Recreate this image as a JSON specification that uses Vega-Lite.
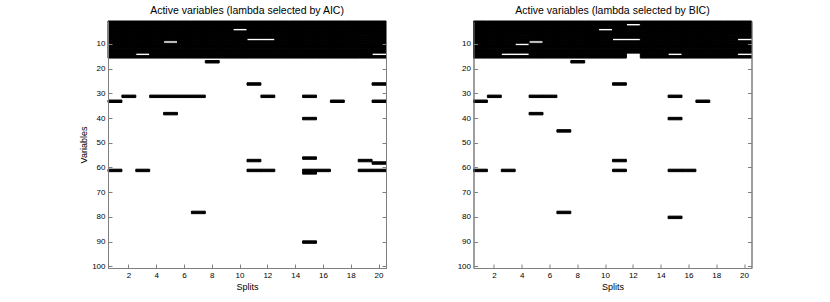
{
"$schema": "https://vega.github.io/schema/vega-lite/v6.json",
"background": "white",
"padding": {"left": 79, "top": 5, "right": 5, "bottom": 2},
"spacing": 69.5,
"datasets": {
"aic": [
{"s":1,"v":1},{"s":1,"v":2},{"s":1,"v":3},{"s":1,"v":4},{"s":1,"v":5},{"s":1,"v":6},{"s":1,"v":7},{"s":1,"v":8},{"s":1,"v":9},{"s":1,"v":10},{"s":1,"v":11},{"s":1,"v":12},{"s":1,"v":13},{"s":1,"v":14},{"s":1,"v":15},{"s":1,"v":33},{"s":1,"v":61},
{"s":2,"v":1},{"s":2,"v":2},{"s":2,"v":3},{"s":2,"v":4},{"s":2,"v":5},{"s":2,"v":6},{"s":2,"v":7},{"s":2,"v":8},{"s":2,"v":9},{"s":2,"v":10},{"s":2,"v":11},{"s":2,"v":12},{"s":2,"v":13},{"s":2,"v":14},{"s":2,"v":15},{"s":2,"v":31},
{"s":3,"v":1},{"s":3,"v":2},{"s":3,"v":3},{"s":3,"v":4},{"s":3,"v":5},{"s":3,"v":6},{"s":3,"v":7},{"s":3,"v":8},{"s":3,"v":9},{"s":3,"v":10},{"s":3,"v":11},{"s":3,"v":12},{"s":3,"v":13},{"s":3,"v":15},{"s":3,"v":61},
{"s":4,"v":1},{"s":4,"v":2},{"s":4,"v":3},{"s":4,"v":4},{"s":4,"v":5},{"s":4,"v":6},{"s":4,"v":7},{"s":4,"v":8},{"s":4,"v":9},{"s":4,"v":10},{"s":4,"v":11},{"s":4,"v":12},{"s":4,"v":13},{"s":4,"v":14},{"s":4,"v":15},{"s":4,"v":31},
{"s":5,"v":1},{"s":5,"v":2},{"s":5,"v":3},{"s":5,"v":4},{"s":5,"v":5},{"s":5,"v":6},{"s":5,"v":7},{"s":5,"v":8},{"s":5,"v":10},{"s":5,"v":11},{"s":5,"v":12},{"s":5,"v":13},{"s":5,"v":14},{"s":5,"v":15},{"s":5,"v":31},{"s":5,"v":38},
{"s":6,"v":1},{"s":6,"v":2},{"s":6,"v":3},{"s":6,"v":4},{"s":6,"v":5},{"s":6,"v":6},{"s":6,"v":7},{"s":6,"v":8},{"s":6,"v":9},{"s":6,"v":10},{"s":6,"v":11},{"s":6,"v":12},{"s":6,"v":13},{"s":6,"v":14},{"s":6,"v":15},{"s":6,"v":31},
{"s":7,"v":1},{"s":7,"v":2},{"s":7,"v":3},{"s":7,"v":4},{"s":7,"v":5},{"s":7,"v":6},{"s":7,"v":7},{"s":7,"v":8},{"s":7,"v":9},{"s":7,"v":10},{"s":7,"v":11},{"s":7,"v":12},{"s":7,"v":13},{"s":7,"v":14},{"s":7,"v":15},{"s":7,"v":31},{"s":7,"v":78},
{"s":8,"v":1},{"s":8,"v":2},{"s":8,"v":3},{"s":8,"v":4},{"s":8,"v":5},{"s":8,"v":6},{"s":8,"v":7},{"s":8,"v":8},{"s":8,"v":9},{"s":8,"v":10},{"s":8,"v":11},{"s":8,"v":12},{"s":8,"v":13},{"s":8,"v":14},{"s":8,"v":15},{"s":8,"v":17},
{"s":9,"v":1},{"s":9,"v":2},{"s":9,"v":3},{"s":9,"v":4},{"s":9,"v":5},{"s":9,"v":6},{"s":9,"v":7},{"s":9,"v":8},{"s":9,"v":9},{"s":9,"v":10},{"s":9,"v":11},{"s":9,"v":12},{"s":9,"v":13},{"s":9,"v":14},{"s":9,"v":15},
{"s":10,"v":1},{"s":10,"v":2},{"s":10,"v":3},{"s":10,"v":5},{"s":10,"v":6},{"s":10,"v":7},{"s":10,"v":8},{"s":10,"v":9},{"s":10,"v":10},{"s":10,"v":11},{"s":10,"v":12},{"s":10,"v":13},{"s":10,"v":14},{"s":10,"v":15},
{"s":11,"v":1},{"s":11,"v":2},{"s":11,"v":3},{"s":11,"v":4},{"s":11,"v":5},{"s":11,"v":6},{"s":11,"v":7},{"s":11,"v":9},{"s":11,"v":10},{"s":11,"v":11},{"s":11,"v":12},{"s":11,"v":13},{"s":11,"v":14},{"s":11,"v":15},{"s":11,"v":26},{"s":11,"v":57},{"s":11,"v":61},
{"s":12,"v":1},{"s":12,"v":2},{"s":12,"v":3},{"s":12,"v":4},{"s":12,"v":5},{"s":12,"v":6},{"s":12,"v":7},{"s":12,"v":9},{"s":12,"v":10},{"s":12,"v":11},{"s":12,"v":12},{"s":12,"v":13},{"s":12,"v":14},{"s":12,"v":15},{"s":12,"v":31},{"s":12,"v":61},
{"s":13,"v":1},{"s":13,"v":2},{"s":13,"v":3},{"s":13,"v":4},{"s":13,"v":5},{"s":13,"v":6},{"s":13,"v":7},{"s":13,"v":8},{"s":13,"v":9},{"s":13,"v":10},{"s":13,"v":11},{"s":13,"v":12},{"s":13,"v":13},{"s":13,"v":14},{"s":13,"v":15},
{"s":14,"v":1},{"s":14,"v":2},{"s":14,"v":3},{"s":14,"v":4},{"s":14,"v":5},{"s":14,"v":6},{"s":14,"v":7},{"s":14,"v":8},{"s":14,"v":9},{"s":14,"v":10},{"s":14,"v":11},{"s":14,"v":12},{"s":14,"v":13},{"s":14,"v":14},{"s":14,"v":15},
{"s":15,"v":1},{"s":15,"v":2},{"s":15,"v":3},{"s":15,"v":4},{"s":15,"v":5},{"s":15,"v":6},{"s":15,"v":7},{"s":15,"v":8},{"s":15,"v":9},{"s":15,"v":10},{"s":15,"v":11},{"s":15,"v":12},{"s":15,"v":13},{"s":15,"v":14},{"s":15,"v":15},{"s":15,"v":31},{"s":15,"v":40},{"s":15,"v":56},{"s":15,"v":61},{"s":15,"v":62},{"s":15,"v":90},
{"s":16,"v":1},{"s":16,"v":2},{"s":16,"v":3},{"s":16,"v":4},{"s":16,"v":5},{"s":16,"v":6},{"s":16,"v":7},{"s":16,"v":8},{"s":16,"v":9},{"s":16,"v":10},{"s":16,"v":11},{"s":16,"v":12},{"s":16,"v":13},{"s":16,"v":14},{"s":16,"v":15},{"s":16,"v":61},
{"s":17,"v":1},{"s":17,"v":2},{"s":17,"v":3},{"s":17,"v":4},{"s":17,"v":5},{"s":17,"v":6},{"s":17,"v":7},{"s":17,"v":8},{"s":17,"v":9},{"s":17,"v":10},{"s":17,"v":11},{"s":17,"v":12},{"s":17,"v":13},{"s":17,"v":14},{"s":17,"v":15},{"s":17,"v":33},
{"s":18,"v":1},{"s":18,"v":2},{"s":18,"v":3},{"s":18,"v":4},{"s":18,"v":5},{"s":18,"v":6},{"s":18,"v":7},{"s":18,"v":8},{"s":18,"v":9},{"s":18,"v":10},{"s":18,"v":11},{"s":18,"v":12},{"s":18,"v":13},{"s":18,"v":14},{"s":18,"v":15},
{"s":19,"v":1},{"s":19,"v":2},{"s":19,"v":3},{"s":19,"v":4},{"s":19,"v":5},{"s":19,"v":6},{"s":19,"v":7},{"s":19,"v":8},{"s":19,"v":9},{"s":19,"v":10},{"s":19,"v":11},{"s":19,"v":12},{"s":19,"v":13},{"s":19,"v":14},{"s":19,"v":15},{"s":19,"v":57},{"s":19,"v":61},
{"s":20,"v":1},{"s":20,"v":2},{"s":20,"v":3},{"s":20,"v":4},{"s":20,"v":5},{"s":20,"v":6},{"s":20,"v":7},{"s":20,"v":8},{"s":20,"v":9},{"s":20,"v":10},{"s":20,"v":11},{"s":20,"v":12},{"s":20,"v":13},{"s":20,"v":15},{"s":20,"v":26},{"s":20,"v":33},{"s":20,"v":58},{"s":20,"v":61}
],
"bic": [
{"s":1,"v":1},{"s":1,"v":2},{"s":1,"v":3},{"s":1,"v":4},{"s":1,"v":5},{"s":1,"v":6},{"s":1,"v":7},{"s":1,"v":8},{"s":1,"v":9},{"s":1,"v":10},{"s":1,"v":11},{"s":1,"v":12},{"s":1,"v":13},{"s":1,"v":14},{"s":1,"v":15},{"s":1,"v":33},{"s":1,"v":61},
{"s":2,"v":1},{"s":2,"v":2},{"s":2,"v":3},{"s":2,"v":4},{"s":2,"v":5},{"s":2,"v":6},{"s":2,"v":7},{"s":2,"v":8},{"s":2,"v":9},{"s":2,"v":10},{"s":2,"v":11},{"s":2,"v":12},{"s":2,"v":13},{"s":2,"v":14},{"s":2,"v":15},{"s":2,"v":31},
{"s":3,"v":1},{"s":3,"v":2},{"s":3,"v":3},{"s":3,"v":4},{"s":3,"v":5},{"s":3,"v":6},{"s":3,"v":7},{"s":3,"v":8},{"s":3,"v":9},{"s":3,"v":10},{"s":3,"v":11},{"s":3,"v":12},{"s":3,"v":13},{"s":3,"v":15},{"s":3,"v":61},
{"s":4,"v":1},{"s":4,"v":2},{"s":4,"v":3},{"s":4,"v":4},{"s":4,"v":5},{"s":4,"v":6},{"s":4,"v":7},{"s":4,"v":8},{"s":4,"v":9},{"s":4,"v":11},{"s":4,"v":12},{"s":4,"v":13},{"s":4,"v":15},
{"s":5,"v":1},{"s":5,"v":2},{"s":5,"v":3},{"s":5,"v":4},{"s":5,"v":5},{"s":5,"v":6},{"s":5,"v":7},{"s":5,"v":8},{"s":5,"v":10},{"s":5,"v":11},{"s":5,"v":12},{"s":5,"v":13},{"s":5,"v":14},{"s":5,"v":15},{"s":5,"v":31},{"s":5,"v":38},
{"s":6,"v":1},{"s":6,"v":2},{"s":6,"v":3},{"s":6,"v":4},{"s":6,"v":5},{"s":6,"v":6},{"s":6,"v":7},{"s":6,"v":8},{"s":6,"v":9},{"s":6,"v":10},{"s":6,"v":11},{"s":6,"v":12},{"s":6,"v":13},{"s":6,"v":14},{"s":6,"v":15},{"s":6,"v":31},
{"s":7,"v":1},{"s":7,"v":2},{"s":7,"v":3},{"s":7,"v":4},{"s":7,"v":5},{"s":7,"v":6},{"s":7,"v":7},{"s":7,"v":8},{"s":7,"v":9},{"s":7,"v":10},{"s":7,"v":11},{"s":7,"v":12},{"s":7,"v":13},{"s":7,"v":14},{"s":7,"v":15},{"s":7,"v":45},{"s":7,"v":78},
{"s":8,"v":1},{"s":8,"v":2},{"s":8,"v":3},{"s":8,"v":4},{"s":8,"v":5},{"s":8,"v":6},{"s":8,"v":7},{"s":8,"v":8},{"s":8,"v":9},{"s":8,"v":10},{"s":8,"v":11},{"s":8,"v":12},{"s":8,"v":13},{"s":8,"v":14},{"s":8,"v":15},{"s":8,"v":17},
{"s":9,"v":1},{"s":9,"v":2},{"s":9,"v":3},{"s":9,"v":4},{"s":9,"v":5},{"s":9,"v":6},{"s":9,"v":7},{"s":9,"v":8},{"s":9,"v":9},{"s":9,"v":10},{"s":9,"v":11},{"s":9,"v":12},{"s":9,"v":13},{"s":9,"v":14},{"s":9,"v":15},
{"s":10,"v":1},{"s":10,"v":2},{"s":10,"v":3},{"s":10,"v":5},{"s":10,"v":6},{"s":10,"v":7},{"s":10,"v":8},{"s":10,"v":9},{"s":10,"v":10},{"s":10,"v":11},{"s":10,"v":12},{"s":10,"v":13},{"s":10,"v":14},{"s":10,"v":15},
{"s":11,"v":1},{"s":11,"v":2},{"s":11,"v":3},{"s":11,"v":4},{"s":11,"v":5},{"s":11,"v":6},{"s":11,"v":7},{"s":11,"v":9},{"s":11,"v":10},{"s":11,"v":11},{"s":11,"v":12},{"s":11,"v":13},{"s":11,"v":14},{"s":11,"v":15},{"s":11,"v":26},{"s":11,"v":57},{"s":11,"v":61},
{"s":12,"v":1},{"s":12,"v":3},{"s":12,"v":4},{"s":12,"v":5},{"s":12,"v":6},{"s":12,"v":7},{"s":12,"v":9},{"s":12,"v":10},{"s":12,"v":11},{"s":12,"v":12},{"s":12,"v":13},
{"s":13,"v":1},{"s":13,"v":2},{"s":13,"v":3},{"s":13,"v":4},{"s":13,"v":5},{"s":13,"v":6},{"s":13,"v":7},{"s":13,"v":8},{"s":13,"v":9},{"s":13,"v":10},{"s":13,"v":11},{"s":13,"v":12},{"s":13,"v":13},{"s":13,"v":14},{"s":13,"v":15},
{"s":14,"v":1},{"s":14,"v":2},{"s":14,"v":3},{"s":14,"v":4},{"s":14,"v":5},{"s":14,"v":6},{"s":14,"v":7},{"s":14,"v":8},{"s":14,"v":9},{"s":14,"v":10},{"s":14,"v":11},{"s":14,"v":12},{"s":14,"v":13},{"s":14,"v":14},{"s":14,"v":15},
{"s":15,"v":1},{"s":15,"v":2},{"s":15,"v":3},{"s":15,"v":4},{"s":15,"v":5},{"s":15,"v":6},{"s":15,"v":7},{"s":15,"v":8},{"s":15,"v":9},{"s":15,"v":10},{"s":15,"v":11},{"s":15,"v":12},{"s":15,"v":13},{"s":15,"v":15},{"s":15,"v":31},{"s":15,"v":40},{"s":15,"v":61},{"s":15,"v":80},
{"s":16,"v":1},{"s":16,"v":2},{"s":16,"v":3},{"s":16,"v":4},{"s":16,"v":5},{"s":16,"v":6},{"s":16,"v":7},{"s":16,"v":8},{"s":16,"v":9},{"s":16,"v":10},{"s":16,"v":11},{"s":16,"v":12},{"s":16,"v":13},{"s":16,"v":14},{"s":16,"v":15},{"s":16,"v":61},
{"s":17,"v":1},{"s":17,"v":2},{"s":17,"v":3},{"s":17,"v":4},{"s":17,"v":5},{"s":17,"v":6},{"s":17,"v":7},{"s":17,"v":8},{"s":17,"v":9},{"s":17,"v":10},{"s":17,"v":11},{"s":17,"v":12},{"s":17,"v":13},{"s":17,"v":14},{"s":17,"v":15},{"s":17,"v":33},
{"s":18,"v":1},{"s":18,"v":2},{"s":18,"v":3},{"s":18,"v":4},{"s":18,"v":5},{"s":18,"v":6},{"s":18,"v":7},{"s":18,"v":8},{"s":18,"v":9},{"s":18,"v":10},{"s":18,"v":11},{"s":18,"v":12},{"s":18,"v":13},{"s":18,"v":14},{"s":18,"v":15},
{"s":19,"v":1},{"s":19,"v":2},{"s":19,"v":3},{"s":19,"v":4},{"s":19,"v":5},{"s":19,"v":6},{"s":19,"v":7},{"s":19,"v":8},{"s":19,"v":9},{"s":19,"v":10},{"s":19,"v":11},{"s":19,"v":12},{"s":19,"v":13},{"s":19,"v":14},{"s":19,"v":15},
{"s":20,"v":1},{"s":20,"v":2},{"s":20,"v":3},{"s":20,"v":4},{"s":20,"v":5},{"s":20,"v":6},{"s":20,"v":7},{"s":20,"v":9},{"s":20,"v":10},{"s":20,"v":11},{"s":20,"v":12},{"s":20,"v":13},{"s":20,"v":15}
]
},
"hconcat": [
{
"title": "Active variables (lambda selected by AIC)",
"width": 278, "height": 247,
"data": {"name": "aic"},
"layer": [
{"mark": {"type": "rect", "color": "black", "stroke": "black", "strokeWidth": 1},
 "encoding": {
  "x": {"field": "s", "type": "ordinal", "scale": {"domain": [1,2,3,4,5,6,7,8,9,10,11,12,13,14,15,16,17,18,19,20], "paddingInner": 0, "paddingOuter": 0}, "axis": {"values": [2,4,6,8,10,12,14,16,18,20], "title": "Splits", "labelAngle": 0}},
  "y": {"field": "v", "type": "ordinal", "scale": {"domain": [1,2,3,4,5,6,7,8,9,10,11,12,13,14,15,16,17,18,19,20,21,22,23,24,25,26,27,28,29,30,31,32,33,34,35,36,37,38,39,40,41,42,43,44,45,46,47,48,49,50,51,52,53,54,55,56,57,58,59,60,61,62,63,64,65,66,67,68,69,70,71,72,73,74,75,76,77,78,79,80,81,82,83,84,85,86,87,88,89,90,91,92,93,94,95,96,97,98,99,100], "paddingInner": 0, "paddingOuter": 0}, "axis": {"values": [10,20,30,40,50,60,70,80,90,100], "title": "Variables"}}
 }},
{"mark": {"type": "rect", "opacity": 0},
 "encoding": {
  "x": {"field": "s", "type": "ordinal", "axis": {"values": [2,4,6,8,10,12,14,16,18,20], "title": "Splits", "labelAngle": 0}},
  "y": {"field": "v", "type": "ordinal", "axis": {"orient": "right", "values": [10,20,30,40,50,60,70,80,90,100], "labels": false, "title": null}}
 }}
],
"resolve": {"axis": {"y": "independent"}}
},
{
"title": "Active variables (lambda selected by BIC)",
"width": 278, "height": 247,
"data": {"name": "bic"},
"layer": [
{"mark": {"type": "rect", "color": "black", "stroke": "black", "strokeWidth": 1},
 "encoding": {
  "x": {"field": "s", "type": "ordinal", "scale": {"domain": [1,2,3,4,5,6,7,8,9,10,11,12,13,14,15,16,17,18,19,20], "paddingInner": 0, "paddingOuter": 0}, "axis": {"values": [2,4,6,8,10,12,14,16,18,20], "title": "Splits", "labelAngle": 0}},
  "y": {"field": "v", "type": "ordinal", "scale": {"domain": [1,2,3,4,5,6,7,8,9,10,11,12,13,14,15,16,17,18,19,20,21,22,23,24,25,26,27,28,29,30,31,32,33,34,35,36,37,38,39,40,41,42,43,44,45,46,47,48,49,50,51,52,53,54,55,56,57,58,59,60,61,62,63,64,65,66,67,68,69,70,71,72,73,74,75,76,77,78,79,80,81,82,83,84,85,86,87,88,89,90,91,92,93,94,95,96,97,98,99,100], "paddingInner": 0, "paddingOuter": 0}, "axis": {"values": [10,20,30,40,50,60,70,80,90,100], "title": null}}
 }},
{"mark": {"type": "rect", "opacity": 0},
 "encoding": {
  "x": {"field": "s", "type": "ordinal", "axis": {"values": [2,4,6,8,10,12,14,16,18,20], "title": "Splits", "labelAngle": 0}},
  "y": {"field": "v", "type": "ordinal", "axis": {"orient": "right", "values": [10,20,30,40,50,60,70,80,90,100], "labels": false, "title": null}}
 }}
],
"resolve": {"axis": {"y": "independent"}}
}
],
"config": {
 "font": "Liberation Sans",
 "view": {"stroke": "#7f7f7f", "strokeWidth": 1},
 "axis": {"domainColor": "#7f7f7f", "tickColor": "#7f7f7f", "labelColor": "#000000", "titleColor": "#000000", "labelFontSize": 8, "titleFontSize": 9, "titleFontWeight": "normal", "tickSize": -4, "grid": false, "labelPadding": 7, "titlePadding": 3},
 "title": {"fontSize": 10.5, "fontWeight": "normal", "offset": 4, "color": "#000000"}
}
}
